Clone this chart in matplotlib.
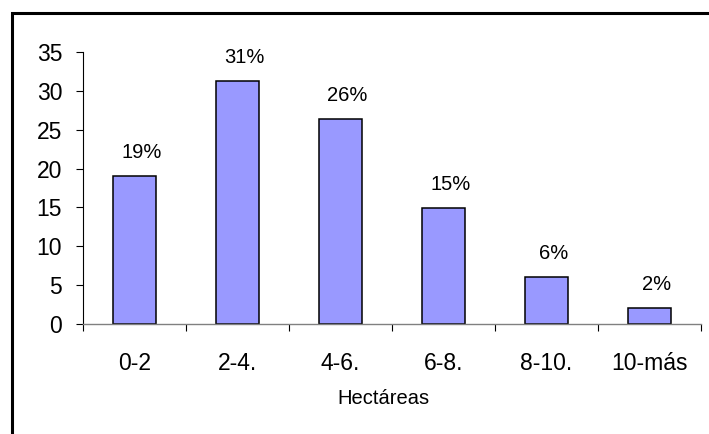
import matplotlib.pyplot as plt
from matplotlib.patches import Rectangle

# data
categorias = ['0-2', '2-4.', '4-6.', '6-8.', '8-10.', '10-más']
valores = [19.1, 31.3, 26.4, 14.9, 6.1, 2.0]
etiquetas = ['19%', '31%', '26%', '15%', '6%', '2%']
y_ticks = [0, 5, 10, 15, 20, 25, 30, 35]

plt.rcParams['font.family'] = ['Liberation Sans', 'DejaVu Sans']

fig = plt.figure(figsize=(7.09, 4.34), dpi=100)
ax = fig.add_axes([83 / 709, 1 - 324 / 434, 618 / 709, 272 / 434])

x = list(range(len(categorias)))
bars = ax.bar(x, valores, width=0.42, color='#9999FF', edgecolor='black', linewidth=1.1)

for xi, v, lab in zip(x, valores, etiquetas):
    ax.annotate(lab, (xi, v), xytext=(5, 13), textcoords='offset points',
                ha='center', va='baseline', fontsize=14.5)

ax.set_xlim(-0.5, len(categorias) - 0.5)
ax.set_ylim(0, 35)
ax.set_yticks(y_ticks)
ax.tick_params(axis='y', direction='out', length=5, width=0.8, pad=10, labelsize=16.5)

# labels at the centres, tick marks between the categories
ax.set_xticks(x)
ax.set_xticklabels(categorias)
ax.tick_params(axis='x', which='major', length=0, pad=20, labelsize=16.5)
ax.set_xticks([i - 0.5 for i in range(len(categorias) + 1)], minor=True)
ax.tick_params(axis='x', which='minor', direction='out', length=5, width=0.8, color='black')

ax.spines['top'].set_visible(False)
ax.spines['right'].set_visible(False)
ax.spines['bottom'].set_color('#808080')
ax.spines['bottom'].set_linewidth(1.0)
ax.spines['left'].set_linewidth(0.8)

fig.text(383 / 709, 1 - 399 / 434, 'Hectáreas', ha='center', va='center', fontsize=14.5)

# outer chart frame (right and bottom edges fall outside the picture)
fig.add_artist(Rectangle((12 / 709, -0.1), 1.2, 1.1 - 13 / 434, transform=fig.transFigure,
                         fill=False, edgecolor='black', linewidth=2.2))

plt.savefig('out.png', dpi=100)
